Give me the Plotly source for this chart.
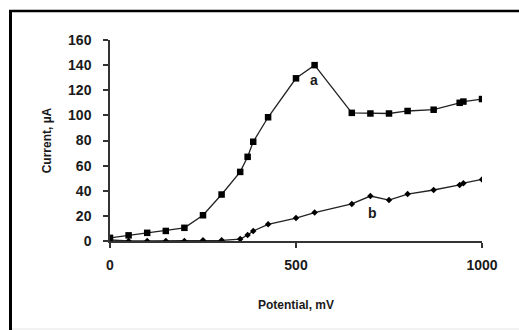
import plotly.graph_objects as go

# Current-potential curves, series a (squares) and series b (small diamonds)
potential_a = [0, 50, 100, 150, 200, 250, 300, 350, 370, 385, 425, 500, 550, 650, 700, 750, 800, 870, 940, 950, 1000]
current_a = [2.5, 4.5, 6.5, 8, 10.5, 20.5, 37, 55, 67, 79, 98.5, 129.5, 140, 102, 101.5, 101.5, 103.5, 104.5, 110, 111, 113]

potential_b = [0, 50, 100, 150, 200, 250, 300, 350, 370, 385, 425, 500, 550, 650, 700, 750, 800, 870, 940, 950, 1000]
current_b = [0.8, 0, 0, 0, 0, 0.5, 0.5, 1.5, 4.8, 8, 13.3, 18.3, 22.6, 29.5, 35.8, 32.6, 37.4, 40.6, 44.6, 46, 49]

x_ticks = [0, 500, 1000]
y_ticks = [0, 20, 40, 60, 80, 100, 120, 140, 160]

FONT = "Liberation Sans, Arial, sans-serif"
INK = "#1a1a1a"

fig = go.Figure()
fig.add_trace(go.Scatter(
    x=potential_a, y=current_a, mode="lines+markers",
    line=dict(color="#222222", width=1.3),
    marker=dict(symbol="square", size=6.5, color="#000000"),
    showlegend=False,
))
fig.add_trace(go.Scatter(
    x=potential_b, y=current_b, mode="lines+markers",
    line=dict(color="#222222", width=1.3),
    marker=dict(symbol="diamond", size=5, color="#000000"),
    showlegend=False,
))

fig.add_annotation(x=548, y=128, text="<b>a</b>", showarrow=False,
                   font=dict(family=FONT, size=14, color=INK))
fig.add_annotation(x=706, y=22, text="<b>b</b>", showarrow=False,
                   font=dict(family=FONT, size=14, color=INK))

# outer frame: thick left and top edges, faint bottom edge
ml, mr, mt, mb = 110, 37, 40, 89
W, H = 519, 330
pw, ph = W - ml - mr, H - mt - mb
def px_x(p):
    return (p - ml) / pw
def px_y(p):
    return (H - mb - p) / ph

fig.add_shape(type="line", xref="paper", yref="paper",
              x0=px_x(10.5), x1=px_x(10.5), y0=px_y(10), y1=px_y(332),
              line=dict(color="#000000", width=3))
fig.add_shape(type="line", xref="paper", yref="paper",
              x0=px_x(9), x1=px_x(522), y0=px_y(11), y1=px_y(11),
              line=dict(color="#000000", width=2.5))
fig.add_shape(type="line", xref="paper", yref="paper",
              x0=px_x(12), x1=px_x(522), y0=px_y(329), y1=px_y(329),
              line=dict(color="#e6e6e6", width=1))

fig.update_layout(
    width=W, height=H,
    margin=dict(l=ml, r=mr, t=mt, b=mb),
    paper_bgcolor="white", plot_bgcolor="white",
    font=dict(family=FONT, color=INK),
)
fig.update_xaxes(
    range=[0, 1000], tickvals=x_ticks, ticktext=[f"<b>{v}</b>" for v in x_ticks],
    showline=True, linecolor="#333333", linewidth=1.5,
    ticks="outside", ticklen=5, tickcolor="#333333", tickwidth=1.5,
    ticklabelstandoff=5,
    showgrid=False, zeroline=False,
    tickfont=dict(family=FONT, size=14, color=INK),
    title=dict(text="<b>Potential, mV</b>", font=dict(family=FONT, size=12, color=INK), standoff=29),
)
fig.update_yaxes(
    range=[0, 160], tickvals=y_ticks, ticktext=[f"<b>{v}</b>" for v in y_ticks],
    showline=True, linecolor="#333333", linewidth=1.5,
    ticks="outside", ticklen=5, tickcolor="#333333", tickwidth=1.5,
    ticklabelstandoff=9,
    showgrid=False, zeroline=False,
    tickfont=dict(family=FONT, size=14, color=INK),
    title=dict(text="<b>Current, µA</b>", font=dict(family=FONT, size=12, color=INK), standoff=14),
)

fig.write_html("out.html")
